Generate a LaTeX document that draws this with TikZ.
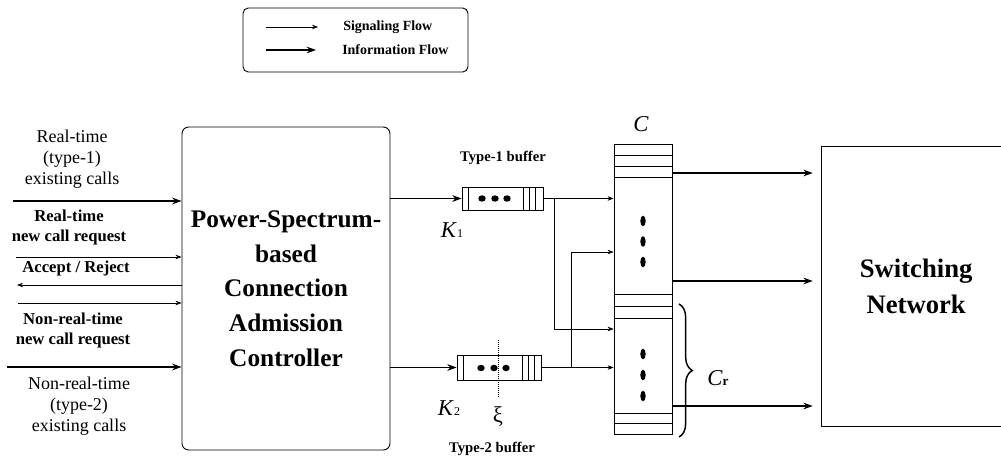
\documentclass[tikz,border=0pt]{standalone}
\usepackage{fontspec}
\setmainfont{Liberation Serif}
\usetikzlibrary{arrows.meta,decorations.pathreplacing,calc}
\begin{document}
\begin{tikzpicture}[x=0.75pt,y=-0.75pt,
  sig/.style={line width=0.5pt,-{Stealth[length=4.5pt,width=3.4pt]}},
  info/.style={line width=0.9pt,-{Stealth[length=7pt,width=5pt]}},
  lbl/.style={align=center,inner sep=0pt,font=\fontsize{13.5}{15.75}\selectfont},
  blbl/.style={align=center,inner sep=0pt,font=\bfseries\fontsize{12.5}{15}\selectfont},
  box/.style={draw,line width=0.7pt,inner sep=0pt},
  thin/.style={line width=0.5pt},
  dot/.style={fill=black}]
\useasboundingbox (0,0) rectangle (1001,460);

% ---------- legend ----------
\node[box,rounded corners=4pt,minimum width=168.75pt,minimum height=48pt] (legend) at (355.5,40) {};
\coordinate (ls1) at (266,27); \coordinate (le1) at (318,27);
\coordinate (ls2) at (266,50); \coordinate (le2) at (316,50);
\draw[sig] (ls1) -- (le1);
\draw[info] (ls2) -- (le2);
\node[anchor=west,inner sep=0pt,font=\bfseries\fontsize{10.5}{12}\selectfont] (tsig) at (343,27) {Signaling Flow};
\node[anchor=west,inner sep=0pt,font=\bfseries\fontsize{10.5}{12}\selectfont] (tinfo) at (342,50) {Information Flow};

% ---------- CAC ----------
\node[box,rounded corners=5pt,minimum width=156pt,minimum height=242.25pt,align=center,
      font=\bfseries\fontsize{19}{26}\selectfont] (cac) at (286,288.5)
  {Power-Spectrum-\\based\\Connection\\Admission\\Controller};

% y levels
\coordinate (y201) at (0,201);
\coordinate (y257) at (0,257);
\coordinate (y285) at (0,285);
\coordinate (y303) at (0,303);
\coordinate (y367) at (0,367);
\coordinate (y173) at (0,173);
\coordinate (y281) at (0,281);
\coordinate (y406) at (0,406);
\coordinate (y252) at (0,252);
\coordinate (y329) at (0,329);

% left labels
\node[lbl] (l1) at (72,159) {Real-time\\(type-1)\\existing calls};
\node[blbl] (l2) at (69,227) {Real-time\\new call request};
\node[blbl] (l3) at (76,268) {Accept / Reject};
\node[blbl] (l4) at (73,330.5) {Non-real-time\\new call request};
\node[lbl] (l5) at (79,406) {Non-real-time\\(type-2)\\existing calls};

% left arrows
\coordinate (a1) at (13,201);
\coordinate (a2) at (16,257);
\coordinate (a3) at (17,285);
\coordinate (a4) at (18,303);
\coordinate (a5) at (7,367);
\draw[info] (a1) -- (cac.west |- y201);
\draw[sig] (a2) -- (cac.west |- y257);
\draw[sig] (cac.west |- y285) -- (a3);
\draw[sig] (a4) -- (cac.west |- y303);
\draw[info] (a5) -- (cac.west |- y367);

% ---------- buffers ----------
\node[box,line width=0.6pt,minimum width=60.75pt,minimum height=17.25pt] (buf1) at (502.5,198.5) {};
\draw[thin] (468,187) -- (468,210);
\draw[thin] (523,187) -- (523,210);
\draw[thin] (529,187) -- (529,210);
\draw[thin] (535,187) -- (535,210);
\fill[dot] (482,198.5) ellipse [x radius=2.8pt, y radius=2.4pt];
\fill[dot] (495,198.5) ellipse [x radius=2.8pt, y radius=2.4pt];
\fill[dot] (507,198.5) ellipse [x radius=2.8pt, y radius=2.4pt];

\node[box,line width=0.6pt,minimum width=63pt,minimum height=18.75pt] (buf2) at (499,367.5) {};
\draw[thin] (463,355) -- (463,380);
\draw[thin] (522,355) -- (522,380);
\draw[thin] (528,355) -- (528,380);
\draw[thin] (534,355) -- (534,380);
\fill[dot] (481,368) ellipse [x radius=2.8pt, y radius=2.4pt];
\fill[dot] (494,368) ellipse [x radius=2.8pt, y radius=2.4pt];
\fill[dot] (506,368) ellipse [x radius=2.8pt, y radius=2.4pt];
\draw[thin,densely dotted] (498,340) -- (498,398);

\node[inner sep=0pt,font=\bfseries\fontsize{11}{13}\selectfont] (t1) at (503,158) {Type-1 buffer};
\node[inner sep=0pt,font=\bfseries\fontsize{11}{13}\selectfont] (t2) at (492,449) {Type-2 buffer};
\node[inner sep=0pt] (k1) at (452,230) {\fontsize{17}{17}\selectfont\itshape K\/\fontsize{9}{9}\selectfont\upshape 1};
\node[inner sep=0pt] (k2) at (449,408) {\fontsize{17}{17}\selectfont\itshape K\/\fontsize{9}{9}\selectfont\upshape 2};
\node[inner sep=0pt,font=\fontsize{17}{17}\selectfont] (xi) at (498,417) {ξ};

\draw[info] (cac.east |- buf1.west) -- (buf1.west);
\draw[info] (cac.east |- buf2.west) -- (buf2.west);

% ---------- column ----------
\node[box,line width=0.6pt,minimum width=43.5pt,minimum height=217.5pt] (col) at (643,289) {};
\foreach \yy in {155,166,177,294,306,318,413,423}
  \draw[thin] (614,\yy) -- (672,\yy);
\foreach \yy in {221,241.5,262,354,375,396}
  \fill[dot] (643,\yy) ellipse [x radius=2pt, y radius=4pt];
\node[inner sep=0pt,font=\itshape\fontsize{17}{17}\selectfont] (cc) at (641,124) {C};
\node[inner sep=0pt] (cr) at (718,378) {\fontsize{17}{17}\selectfont\itshape C\/\fontsize{10}{10}\selectfont\upshape\bfseries r};
\draw[line width=1.1pt,decorate,decoration={brace,amplitude=10pt}] (679,304) -- (679,437);

% buffer to column
\coordinate (b1) at ($(buf1.east)+(11,0)$);
\coordinate (b2) at ($(buf2.east)+(30,0)$);
\draw[sig] (buf1.east) -- (col.west |- buf1.east);
\draw[sig] (b1) |- (col.west |- y329);
\draw[sig] (buf2.east) -- (col.west |- buf2.east);
\draw[sig] (b2) |- (col.west |- y252);

% ---------- switching network ----------
\node[inner sep=0pt,minimum width=134.25pt,minimum height=209.25pt,align=center,
      font=\bfseries\fontsize{20}{27}\selectfont] (sn) at (911.5,286.5) {\hspace*{7pt}Switching\\\hspace*{7pt}Network};
\draw[line width=0.7pt] (sn.north east) -- (sn.north west) -- (sn.south west) -- (sn.south east);

\draw[info] (col.east |- y173) -- ($(sn.west |- y173)+(-9,0)$);
\draw[info] (col.east |- y281) -- ($(sn.west |- y281)+(-9,0)$);
\draw[info] (col.east |- y406) -- ($(sn.west |- y406)+(-9,0)$);
\end{tikzpicture}
\end{document}
